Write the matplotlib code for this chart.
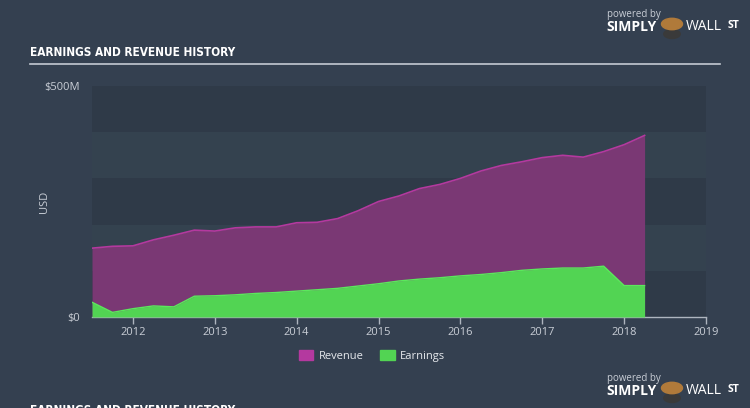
import matplotlib
matplotlib.use("Agg")
import matplotlib.pyplot as plt
from matplotlib.patches import Rectangle, Circle
from matplotlib.lines import Line2D

# ---- data (USD millions, quarterly) ----
quarters = [2011.5, 2011.75, 2012.0, 2012.25, 2012.5, 2012.75, 2013.0, 2013.25,
            2013.5, 2013.75, 2014.0, 2014.25, 2014.5, 2014.75, 2015.0, 2015.25,
            2015.5, 2015.75, 2016.0, 2016.25, 2016.5, 2016.75, 2017.0, 2017.25,
            2017.5, 2017.75, 2018.0, 2018.25]
revenue = [149, 153, 154, 167, 177, 188, 186, 193,
           195, 195, 204, 205, 213, 230, 250, 262,
           278, 287, 300, 316, 328, 336, 345, 350,
           346, 358, 373, 393]
earnings = [32, 10, 18, 24, 22, 45, 46, 48,
            51, 53, 56, 59, 62, 67, 72, 78,
            82, 85, 89, 92, 96, 101, 104, 106,
            106, 110, 68, 68]
year_ticks = [2012, 2013, 2014, 2015, 2016, 2017, 2018, 2019]
y_tick_vals = [0, 500]
y_tick_labels = ["$0", "$500M"]
legend_labels = ["Revenue", "Earnings"]

BG = "#344050"
BAND_DARK = "#2F3A48"
BAND_LIGHT = "#34424F"
REV_FILL = "#7A3874"
REV_LINE = "#B4399F"
EARN_FILL = "#52D453"
EARN_LINE = "#5BE85C"
TXT = "#C9CED6"
FONT = ["Open Sans", "DejaVu Sans"]
COND = "DejaVu Sans"

fig = plt.figure(figsize=(7.5, 4.08), dpi=100, facecolor=BG)
ax = fig.add_axes([92/750, 1-317/408, 614/750, 231/408])
ax.set_facecolor(BAND_LIGHT)
for lo in (0, 200, 400):
    ax.axhspan(lo, lo + 100, color=BAND_DARK, zorder=0, lw=0)

ax.fill_between(quarters, revenue, 0, color=REV_FILL, lw=0, zorder=2)
ax.plot(quarters, revenue, color=REV_LINE, lw=1.2, zorder=3)
ax.fill_between(quarters, earnings, 0, color=EARN_FILL, lw=0, zorder=4)
ax.plot(quarters, earnings, color=EARN_LINE, lw=1.0, zorder=5)

ax.set_xlim(2011.5, 2019.0)
ax.set_ylim(0, 500)
for s in ("top", "right", "left"):
    ax.spines[s].set_visible(False)
ax.spines["bottom"].set_color("#AEB5BF")
ax.spines["bottom"].set_linewidth(1.0)
ax.set_xticks(year_ticks)
ax.set_xticklabels([str(y) for y in year_ticks], fontfamily=FONT, fontsize=8, color=TXT)
ax.tick_params(axis="x", colors="#AEB5BF", length=5, width=1, pad=2, labelcolor=TXT)
ax.set_yticks(y_tick_vals)
ax.set_yticklabels(y_tick_labels, fontfamily=FONT, fontsize=8, color=TXT)
ax.tick_params(axis="y", length=0, pad=8.5, labelcolor=TXT)
ax.set_ylabel("USD", fontfamily=FONT, fontsize=8, color=TXT)
ax.yaxis.set_label_coords((50 - 92) / 614, 0.5)

# title and rule
fig.text(30/750, 1-52/408, "EARNINGS AND REVENUE HISTORY", fontfamily=COND, fontstretch="condensed",
         fontweight="bold", fontsize=8.5, color="#FFFFFF", va="center", ha="left")
fig.add_artist(Line2D([30/750, 720/750], [1-64/408, 1-64/408], color="#C4CAD2", lw=1.2))

# legend
handles = [Rectangle((0, 0), 1, 1, color=REV_LINE), Rectangle((0, 0), 1, 1, color=EARN_FILL)]
leg = fig.legend(handles, legend_labels, loc="center", bbox_to_anchor=(372/750, 1-356/408),
                 ncol=2, frameon=False, handlelength=1.3, handleheight=0.9,
                 handletextpad=0.5, columnspacing=1.5, prop={"family": FONT, "size": 8})
for t in leg.get_texts():
    t.set_color("#E6E9ED")

# logos as text
for yy in (14, 378):
    fig.text(607/750, 1-yy/408, "powered by", fontfamily=FONT, fontsize=7, color="#C9CED6", va="center")
    fig.text(606/750, 1-(yy + 13)/408, "SIMPLY", fontfamily=FONT, fontweight="bold", fontsize=10,
             color="#FFFFFF", va="center")
    fig.text(686/750, 1-(yy + 13)/408, "WALL", fontfamily=FONT, fontsize=10, color="#FFFFFF", va="center")
    fig.text(728/750, 1-(yy + 12)/408, "ST", fontfamily=FONT, fontweight="bold", fontsize=7.5,
             color="#FFFFFF", va="center")
    fig.add_artist(Circle((672/750, 1-(yy + 10)/408), 0.014, transform=fig.transFigure,
                          color="#B07A3A", zorder=5))
    fig.add_artist(Circle((672/750, 1-(yy + 20)/408), 0.011, transform=fig.transFigure,
                          color="#3A3A3A", zorder=4))

fig.text(30/750, 1-411/408, "EARNINGS AND REVENUE HISTORY", fontfamily=COND, fontstretch="condensed",
         fontweight="bold", fontsize=8.5, color="#FFFFFF", va="center", ha="left")

fig.savefig("out.png", dpi=100, facecolor=BG)
